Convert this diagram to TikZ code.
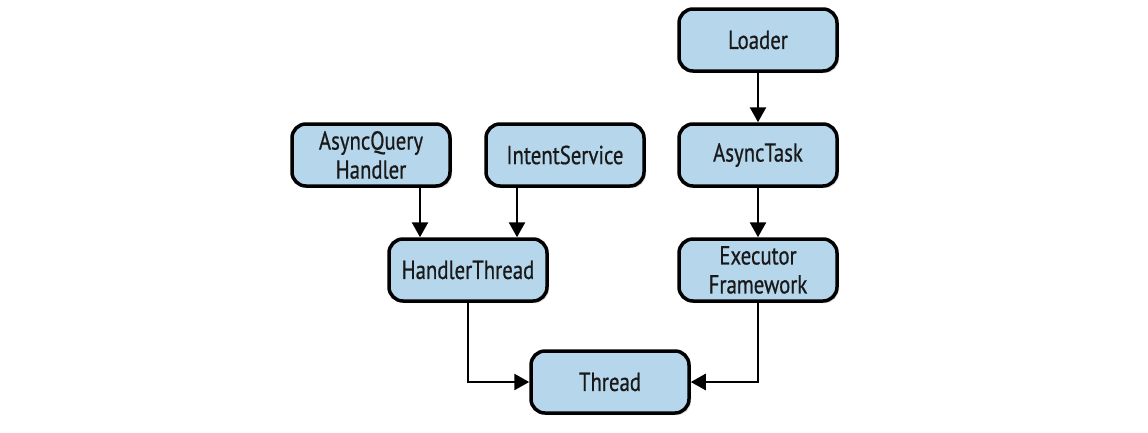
\documentclass[tikz,border=0pt]{standalone}
\usepackage{fontspec}
\setmainfont{PT Sans}[FakeStretch=0.8,FakeBold=0.6]
\usetikzlibrary{arrows.meta,shadows}
\definecolor{boxfill}{RGB}{181,214,235}
\tikzset{
  box/.style={draw=black, line width=3.5pt, fill=boxfill, rounded corners=14pt,
    minimum width=158pt, minimum height=62pt, align=center,
    font=\fontsize{26}{29}\selectfont, text=black!90,
    drop shadow={opacity=0.25, shadow xshift=2pt, shadow yshift=-2pt}},
  conn/.style={line width=2.6pt, -{Triangle[length=15pt,width=16pt]}}
}
\begin{document}
\begin{tikzpicture}[x=1pt,y=1pt]
\useasboundingbox (0,0) rectangle (1148,-432);
\node[box] (loader) at (758,-40) {Loader};
\node[box] (aqh) at (371,-155) {AsyncQuery\\Handler};
\node[box] (is) at (565,-155) {IntentService};
\node[box] (at) at (758,-155) {AsyncTask};
\node[box] (ht) at (468,-270) {HandlerThread};
\node[box] (ef) at (758,-270) {Executor\\Framework};
\node[box] (th) at (610,-382) {Thread};
\draw[conn] (loader) -- (at);
\draw[conn] (at) -- (ef);
\draw[conn] (aqh.south -| 420,0) -- (ht.north -| 420,0);
\draw[conn] (is.south -| 517,0) -- (ht.north -| 517,0);
\draw[conn] (ht.south) |- (th.west);
\draw[conn] (ef.south) |- (th.east);
\end{tikzpicture}
\end{document}
